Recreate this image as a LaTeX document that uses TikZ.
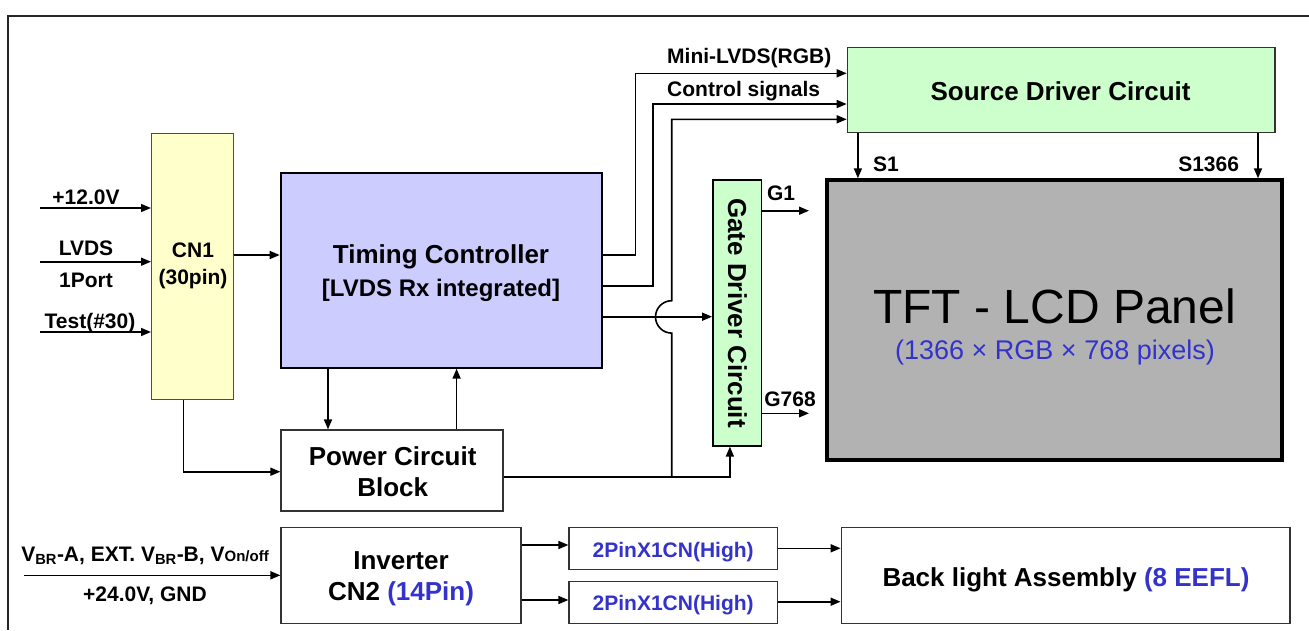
\documentclass[tikz,border=0pt]{standalone}
\usepackage{fontspec}
\setmainfont{Liberation Sans}
\usetikzlibrary{arrows.meta,calc}
\definecolor{cnyellow}{HTML}{FFFFCC}
\definecolor{tcblue}{HTML}{CCCCFF}
\definecolor{drvgreen}{HTML}{CCFFCC}
\definecolor{panelgray}{HTML}{B2B2B2}
\definecolor{txtblue}{HTML}{3333CC}
\begin{document}
\begin{tikzpicture}[x=1pt,y=-1pt,
  box/.style={draw=black!80, line width=1.2pt, inner sep=0pt},
  arr/.style={line width=1.6pt, -{Triangle[length=10pt,width=8pt]}},
  wire/.style={line width=1.6pt},
  big/.style={font=\fontsize{26}{31}\selectfont\bfseries, inner sep=0pt},
  small/.style={font=\fontsize{21}{25}\selectfont\bfseries, inner sep=0pt},
]
\useasboundingbox (0,0) rectangle (1309,630);
% frame
\coordinate (fbl) at (8,630);
\coordinate (ftl) at (8,16);
\coordinate (ftr) at (1309,16);
\draw[line width=1.5pt, black!85] (fbl) -- (ftl) -- (ftr);

% boxes
\node[box, draw=black!70, line width=1pt, fill=cnyellow, minimum width=82.1pt, minimum height=266.3pt] (cn1) at (192.55,266.15) {};
\node[box, draw=black, line width=2pt, fill=tcblue, minimum width=321.1pt, minimum height=195pt] (tc) at (441.25,270.2) {};
\node[box, fill=drvgreen, line width=1.4pt, minimum width=427.4pt, minimum height=85pt] (src) at (1061.1,89.8) {};
\node[box, draw=black, line width=4pt, fill=panelgray, minimum width=455.1pt, minimum height=280pt] (panel) at (1054.45,320.3) {};
\node[box, draw=black, line width=1.8pt, fill=drvgreen, minimum width=48.5pt, minimum height=265.7pt] (gate) at (737.25,312.85) {};
\node[box, fill=white, minimum width=222pt, minimum height=81pt] (pwr) at (392,470.5) {};
\node[box, fill=white, minimum width=240pt, minimum height=95.6pt] (inv) at (401,575.5) {};
\node[box, fill=white, minimum width=208.4pt, minimum height=41.6pt] (p1) at (673.2,548.5) {};
\node[box, fill=white, minimum width=208.4pt, minimum height=41.6pt] (p2) at (673.2,602.5) {};
\node[box, fill=white, minimum width=448.8pt, minimum height=95.6pt] (back) at (1065.6,575.5) {};

% box texts
\node[small, anchor=base] (cn1a) at (193,257.7) {CN1};
\node[small, anchor=base] (cn1b) at (193,284) {(30pin)};
\node[big, anchor=base] (tca) at (441,263.3) {Timing Controller};
\node[big, font=\fontsize{24}{28}\selectfont\bfseries, anchor=base] (tcb) at (441,296.7) {[LVDS Rx integrated]};
\node[big, anchor=base] (srct) at (1060.6,100) {Source Driver Circuit};
\node[font=\fontsize{48}{52}\selectfont, inner sep=0pt, anchor=base] (tft) at (1054.7,323.3) {TFT - LCD Panel};
\node[font=\fontsize{27}{30}\selectfont, text=txtblue, inner sep=0pt, anchor=base] (pix) at (1055,359.3) {(1366 × RGB × 768 pixels)};
\node[big, rotate=-90] (gatet) at (737.5,313) {Gate Driver Circuit};
\node[big, anchor=base] (pwra) at (392.7,465) {Power Circuit};
\node[big, anchor=base] (pwrb) at (392.7,496.7) {Block};
\node[big, anchor=base] (inva) at (401,569.3) {Inverter};
\node[big, anchor=base] (invb) at (401,600.7) {CN2 \textcolor{txtblue}{(14Pin)}};
\node[small, text=txtblue, anchor=base] (p1t) at (673.2,557.3) {2PinX1CN(High)};
\node[small, text=txtblue, anchor=base] (p2t) at (673.2,610.7) {2PinX1CN(High)};
\node[big, anchor=base] (backt) at (1066,586) {Back light Assembly \textcolor{txtblue}{(8 EEFL)}};

% input labels
\node[small, anchor=base] (l12) at (86,204) {+12.0V};
\node[small, anchor=base] (llv) at (86,255) {LVDS};
\node[small, anchor=base] (l1p) at (86,287.3) {1Port};
\node[small, anchor=base] (lts) at (90,328.3) {Test(\#30)};
\node[small, anchor=base] (lvb) at (145,561) {V\textsubscript{BR}-A, EXT. V\textsubscript{BR}-B, V{\fontsize{15}{15}\selectfont On/off}};
\node[small, anchor=base] (l24) at (145,601) {+24.0V, GND};
\node[small, anchor=base west] (lmini) at (667,63.3) {Mini-LVDS(RGB)};
\node[small, anchor=base west] (lctl) at (667,96.7) {Control signals};
\node[small, anchor=base] (ls1) at (886,171.7) {S1};
\node[small, anchor=base] (ls2) at (1208.6,171.7) {S1366};
\node[small, anchor=base] (lg1) at (781,200.7) {G1};
\node[small, anchor=base] (lg2) at (790,406) {G768};

% free ends
\coordinate (in12) at (40,208);
\coordinate (inlv) at (40,261.7);
\coordinate (ints) at (40,332);
\coordinate (vin) at (24.4,575.3);
\coordinate (g1e) at (809,210.7);
\coordinate (g2e) at (809,413.3);
\coordinate (jn) at (671.7,477);

% connectors
\draw[arr] (in12) -- (in12 -| cn1.west);
\draw[arr] (inlv) -- (inlv -| cn1.west);
\draw[arr] (ints) -- (ints -| cn1.west);
\draw[arr] (cn1.east |- 0,255) -- (tc.west |- 0,255);
\draw[arr] (tc.east |- 0,255) -| (635.5,73.3) -- (src.west |- 0,73.3);
\draw[arr] (tc.east |- 0,286) -| (652.7,104) -- (src.west |- 0,104);
\draw[arr] (tc.east |- 0,316.7) -- (gate.west |- 0,316.7);
\draw[arr] (pwr.east |- 0,477) -| ([xshift=-7.35pt]gate.south);
\draw[arr] (jn) -- (671.7,333.1) arc[start angle=90, end angle=270, radius=16.2] -- (671.7,119.3) -- (src.west |- 0,119.3);
\draw[arr] (tc.south -| 328,0) -- (pwr.north -| 328,0);
\draw[arr] (pwr.north -| 456.6,0) -- (tc.south -| 456.6,0);
\draw[arr] (cn1.south -| 183.5,0) |- (pwr.west |- 0,471.7);
\draw[arr] (src.south -| 857.9,0) -- (panel.north -| 857.9,0);
\draw[arr] (src.south -| 1258,0) -- (panel.north -| 1258,0);
\draw[arr] (gate.east |- g1e) -- (g1e);
\draw[arr] (gate.east |- g2e) -- (g2e);
\draw[arr] (vin) -- (vin -| inv.west);
\draw[arr] (inv.east |- 0,545) -- (p1.west |- 0,545);
\draw[arr] (inv.east |- 0,600) -- (p2.west |- 0,600);
\draw[arr] (p1.east |- 0,548.3) -- (back.west |- 0,548.3);
\draw[arr] (p2.east |- 0,601.7) -- (back.west |- 0,601.7);
\end{tikzpicture}
\end{document}
